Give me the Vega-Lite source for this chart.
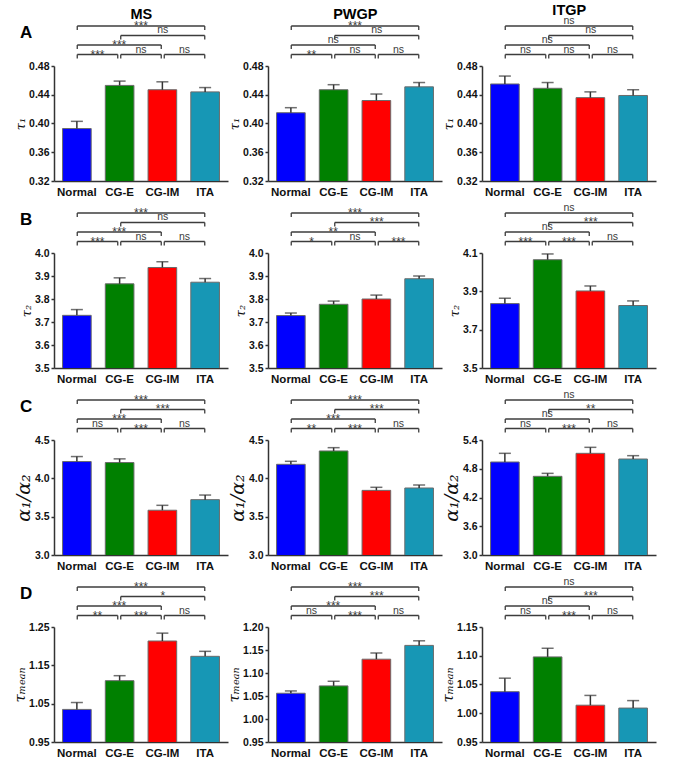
{
"$schema":"https://vega.github.io/schema/vega-lite/v6.json",
"padding":{"left":12,"top":3,"right":2,"bottom":2},
"datasets":{
"bars":[
{"p":"A-MS","g":"Normal","mean":0.393,"hi":0.403},{"p":"A-MS","g":"CG-E","mean":0.453,"hi":0.459},{"p":"A-MS","g":"CG-IM","mean":0.447,"hi":0.458},{"p":"A-MS","g":"ITA","mean":0.444,"hi":0.450},
{"p":"A-PWGP","g":"Normal","mean":0.415,"hi":0.422},{"p":"A-PWGP","g":"CG-E","mean":0.447,"hi":0.454},{"p":"A-PWGP","g":"CG-IM","mean":0.432,"hi":0.441},{"p":"A-PWGP","g":"ITA","mean":0.451,"hi":0.457},
{"p":"A-ITGP","g":"Normal","mean":0.455,"hi":0.466},{"p":"A-ITGP","g":"CG-E","mean":0.449,"hi":0.457},{"p":"A-ITGP","g":"CG-IM","mean":0.436,"hi":0.444},{"p":"A-ITGP","g":"ITA","mean":0.439,"hi":0.447},
{"p":"B-MS","g":"Normal","mean":3.729,"hi":3.754},{"p":"B-MS","g":"CG-E","mean":3.866,"hi":3.892},{"p":"B-MS","g":"CG-IM","mean":3.937,"hi":3.962},{"p":"B-MS","g":"ITA","mean":3.873,"hi":3.889},
{"p":"B-PWGP","g":"Normal","mean":3.728,"hi":3.739},{"p":"B-PWGP","g":"CG-E","mean":3.777,"hi":3.791},{"p":"B-PWGP","g":"CG-IM","mean":3.800,"hi":3.817},{"p":"B-PWGP","g":"ITA","mean":3.888,"hi":3.900},
{"p":"B-ITGP","g":"Normal","mean":3.836,"hi":3.864},{"p":"B-ITGP","g":"CG-E","mean":4.065,"hi":4.095},{"p":"B-ITGP","g":"CG-IM","mean":3.902,"hi":3.928},{"p":"B-ITGP","g":"ITA","mean":3.826,"hi":3.850},
{"p":"C-MS","g":"Normal","mean":4.219,"hi":4.284},{"p":"C-MS","g":"CG-E","mean":4.206,"hi":4.254},{"p":"C-MS","g":"CG-IM","mean":3.584,"hi":3.648},{"p":"C-MS","g":"ITA","mean":3.722,"hi":3.782},
{"p":"C-PWGP","g":"Normal","mean":4.183,"hi":4.222},{"p":"C-PWGP","g":"CG-E","mean":4.357,"hi":4.400},{"p":"C-PWGP","g":"CG-IM","mean":3.843,"hi":3.883},{"p":"C-PWGP","g":"ITA","mean":3.874,"hi":3.913},
{"p":"C-ITGP","g":"Normal","mean":4.941,"hi":5.122},{"p":"C-ITGP","g":"CG-E","mean":4.642,"hi":4.704},{"p":"C-ITGP","g":"CG-IM","mean":5.122,"hi":5.247},{"p":"C-ITGP","g":"ITA","mean":5.003,"hi":5.073},
{"p":"D-MS","g":"Normal","mean":1.035,"hi":1.053},{"p":"D-MS","g":"CG-E","mean":1.110,"hi":1.123},{"p":"D-MS","g":"CG-IM","mean":1.2135,"hi":1.234},{"p":"D-MS","g":"ITA","mean":1.1735,"hi":1.1865},
{"p":"D-PWGP","g":"Normal","mean":1.056,"hi":1.061},{"p":"D-PWGP","g":"CG-E","mean":1.072,"hi":1.082},{"p":"D-PWGP","g":"CG-IM","mean":1.130,"hi":1.1435},{"p":"D-PWGP","g":"ITA","mean":1.160,"hi":1.170},
{"p":"D-ITGP","g":"Normal","mean":1.0375,"hi":1.061},{"p":"D-ITGP","g":"CG-E","mean":1.098,"hi":1.113},{"p":"D-ITGP","g":"CG-IM","mean":1.014,"hi":1.031},{"p":"D-ITGP","g":"ITA","mean":1.009,"hi":1.022}
],
"pairs":[
{"k":"NE","f":"Normal","t":"CG-E","m":"Normal|CG-E","lv":1},
{"k":"EM","f":"CG-E","t":"CG-IM","m":"CG-E|CG-IM","lv":1},
{"k":"MI","f":"CG-IM","t":"ITA","m":"CG-IM|ITA","lv":1},
{"k":"NM","f":"Normal","t":"CG-IM","m":"CG-E","lv":2},
{"k":"EI","f":"CG-E","t":"ITA","m":"CG-IM","lv":3},
{"k":"NI","f":"Normal","t":"ITA","m":"CG-E|CG-IM","lv":4}
],
"sig":[
{"p":"A-MS","k":"NE","s":"***"},{"p":"A-MS","k":"EM","s":"ns"},{"p":"A-MS","k":"MI","s":"ns"},{"p":"A-MS","k":"NM","s":"***"},{"p":"A-MS","k":"EI","s":"ns"},{"p":"A-MS","k":"NI","s":"***"},
{"p":"A-PWGP","k":"NE","s":"**"},{"p":"A-PWGP","k":"EM","s":"ns"},{"p":"A-PWGP","k":"MI","s":"ns"},{"p":"A-PWGP","k":"NM","s":"ns"},{"p":"A-PWGP","k":"EI","s":"ns"},{"p":"A-PWGP","k":"NI","s":"***"},
{"p":"A-ITGP","k":"NE","s":"ns"},{"p":"A-ITGP","k":"EM","s":"ns"},{"p":"A-ITGP","k":"MI","s":"ns"},{"p":"A-ITGP","k":"NM","s":"ns"},{"p":"A-ITGP","k":"EI","s":"ns"},{"p":"A-ITGP","k":"NI","s":"ns"},
{"p":"B-MS","k":"NE","s":"***"},{"p":"B-MS","k":"EM","s":"ns"},{"p":"B-MS","k":"MI","s":"ns"},{"p":"B-MS","k":"NM","s":"***"},{"p":"B-MS","k":"EI","s":"ns"},{"p":"B-MS","k":"NI","s":"***"},
{"p":"B-PWGP","k":"NE","s":"*"},{"p":"B-PWGP","k":"EM","s":"ns"},{"p":"B-PWGP","k":"MI","s":"***"},{"p":"B-PWGP","k":"NM","s":"**"},{"p":"B-PWGP","k":"EI","s":"***"},{"p":"B-PWGP","k":"NI","s":"***"},
{"p":"B-ITGP","k":"NE","s":"***"},{"p":"B-ITGP","k":"EM","s":"***"},{"p":"B-ITGP","k":"MI","s":"ns"},{"p":"B-ITGP","k":"NM","s":"ns"},{"p":"B-ITGP","k":"EI","s":"***"},{"p":"B-ITGP","k":"NI","s":"ns"},
{"p":"C-MS","k":"NE","s":"ns"},{"p":"C-MS","k":"EM","s":"***"},{"p":"C-MS","k":"MI","s":"ns"},{"p":"C-MS","k":"NM","s":"***"},{"p":"C-MS","k":"EI","s":"***"},{"p":"C-MS","k":"NI","s":"***"},
{"p":"C-PWGP","k":"NE","s":"**"},{"p":"C-PWGP","k":"EM","s":"***"},{"p":"C-PWGP","k":"MI","s":"ns"},{"p":"C-PWGP","k":"NM","s":"***"},{"p":"C-PWGP","k":"EI","s":"***"},{"p":"C-PWGP","k":"NI","s":"***"},
{"p":"C-ITGP","k":"NE","s":"ns"},{"p":"C-ITGP","k":"EM","s":"***"},{"p":"C-ITGP","k":"MI","s":"ns"},{"p":"C-ITGP","k":"NM","s":"ns"},{"p":"C-ITGP","k":"EI","s":"**"},{"p":"C-ITGP","k":"NI","s":"ns"},
{"p":"D-MS","k":"NE","s":"**"},{"p":"D-MS","k":"EM","s":"***"},{"p":"D-MS","k":"MI","s":"ns"},{"p":"D-MS","k":"NM","s":"***"},{"p":"D-MS","k":"EI","s":"*"},{"p":"D-MS","k":"NI","s":"***"},
{"p":"D-PWGP","k":"NE","s":"ns"},{"p":"D-PWGP","k":"EM","s":"***"},{"p":"D-PWGP","k":"MI","s":"ns"},{"p":"D-PWGP","k":"NM","s":"***"},{"p":"D-PWGP","k":"EI","s":"***"},{"p":"D-PWGP","k":"NI","s":"***"},
{"p":"D-ITGP","k":"NE","s":"ns"},{"p":"D-ITGP","k":"EM","s":"***"},{"p":"D-ITGP","k":"MI","s":"ns"},{"p":"D-ITGP","k":"NM","s":"ns"},{"p":"D-ITGP","k":"EI","s":"***"},{"p":"D-ITGP","k":"NI","s":"ns"}
]
},
"columns":3,
"spacing":{"row":4,"column":-2},
"concat":[
{"title":{"text":"MS","dx":20},"spacing":0,"vconcat":[
 {"width":174,"height":40,"title":{"text":"A","anchor":"start","frame":"group","dx":-34,"offset":-22,"fontSize":17},
  "data":{"name":"sig"},"transform":[{"filter":"datum.p=='A-MS'"},{"lookup":"k","from":{"data":{"name":"pairs"},"key":"k","fields":["f","t","m","lv"]}}],
  "encoding":{"y":{"field":"lv","type":"quantitative","scale":{"domain":[0.316,4.526],"nice":false,"zero":false},"axis":null}},
  "layer":[
   {"mark":{"type":"rule","color":"#3c3c3c","strokeWidth":1.3,"xOffset":1.5,"x2Offset":-1.5},"encoding":{"x":{"field":"f","type":"ordinal","scale":{"type":"point","domain":["Normal","Normal|CG-E","CG-E","CG-E|CG-IM","CG-IM","CG-IM|ITA","ITA"],"padding":1.07},"axis":null},"x2":{"field":"t"}}},
   {"mark":{"type":"rule","color":"#3c3c3c","strokeWidth":1.3,"xOffset":1.5,"y2Offset":4},"encoding":{"x":{"field":"f","type":"ordinal","scale":{"type":"point","domain":["Normal","Normal|CG-E","CG-E","CG-E|CG-IM","CG-IM","CG-IM|ITA","ITA"],"padding":1.07},"axis":null},"y2":{"field":"lv"}}},
   {"mark":{"type":"rule","color":"#3c3c3c","strokeWidth":1.3,"xOffset":-1.5,"y2Offset":4},"encoding":{"x":{"field":"t","type":"ordinal","scale":{"type":"point","domain":["Normal","Normal|CG-E","CG-E","CG-E|CG-IM","CG-IM","CG-IM|ITA","ITA"],"padding":1.07},"axis":null},"y2":{"field":"lv"}}},
   {"transform":[{"filter":"datum.s=='ns'"}],"mark":{"type":"text","fontSize":10.5,"color":"#3c3c3c","baseline":"alphabetic","dy":-2},"encoding":{"x":{"field":"m","type":"ordinal","scale":{"type":"point","domain":["Normal","Normal|CG-E","CG-E","CG-E|CG-IM","CG-IM","CG-IM|ITA","ITA"],"padding":1.07},"axis":null},"text":{"field":"s"}}},
   {"transform":[{"filter":"datum.s!='ns'"}],"mark":{"type":"text","fontSize":12,"color":"#3c3c3c","baseline":"alphabetic","dy":4},"encoding":{"x":{"field":"m","type":"ordinal","scale":{"type":"point","domain":["Normal","Normal|CG-E","CG-E","CG-E|CG-IM","CG-IM","CG-IM|ITA","ITA"],"padding":1.07},"axis":null},"text":{"field":"s"}}}
  ]},
 {"width":174,"height":115,"data":{"name":"bars"},"transform":[{"filter":"datum.p=='A-MS'"}],
  "encoding":{"x":{"field":"g","type":"nominal","sort":["Normal","CG-E","CG-IM","ITA"],"scale":{"paddingInner":0.33,"paddingOuter":0.2},"axis":{"title":null}},
   "y":{"field":"mean","type":"quantitative","title":"τ₁","scale":{"domain":[0.32,0.48],"zero":false,"nice":false},"axis":{"values":[0.32,0.36,0.40,0.44,0.48],"format":".2f","titleFontSize":13}}},
  "layer":[
   {"mark":{"type":"bar","clip":true,"stroke":"#6b6b6b","strokeWidth":1},"encoding":{"color":{"field":"g","type":"nominal","scale":{"domain":["Normal","CG-E","CG-IM","ITA"],"range":["#0000ff","#008000","#ff0000","#1797b5"]},"legend":null}}},
   {"mark":{"type":"rule","color":"#333","strokeWidth":1.5},"encoding":{"y2":{"field":"hi"}}},
   {"mark":{"type":"tick","color":"#333","size":12,"thickness":1.5},"encoding":{"y":{"field":"hi","type":"quantitative","title":"τ₁"}}}
  ]}
]},
{"title":{"text":"PWGP","dx":20},"spacing":0,"vconcat":[
 {"width":174,"height":40,
  "data":{"name":"sig"},"transform":[{"filter":"datum.p=='A-PWGP'"},{"lookup":"k","from":{"data":{"name":"pairs"},"key":"k","fields":["f","t","m","lv"]}}],
  "encoding":{"y":{"field":"lv","type":"quantitative","scale":{"domain":[0.316,4.526],"nice":false,"zero":false},"axis":null}},
  "layer":[
   {"mark":{"type":"rule","color":"#3c3c3c","strokeWidth":1.3,"xOffset":1.5,"x2Offset":-1.5},"encoding":{"x":{"field":"f","type":"ordinal","scale":{"type":"point","domain":["Normal","Normal|CG-E","CG-E","CG-E|CG-IM","CG-IM","CG-IM|ITA","ITA"],"padding":1.07},"axis":null},"x2":{"field":"t"}}},
   {"mark":{"type":"rule","color":"#3c3c3c","strokeWidth":1.3,"xOffset":1.5,"y2Offset":4},"encoding":{"x":{"field":"f","type":"ordinal","scale":{"type":"point","domain":["Normal","Normal|CG-E","CG-E","CG-E|CG-IM","CG-IM","CG-IM|ITA","ITA"],"padding":1.07},"axis":null},"y2":{"field":"lv"}}},
   {"mark":{"type":"rule","color":"#3c3c3c","strokeWidth":1.3,"xOffset":-1.5,"y2Offset":4},"encoding":{"x":{"field":"t","type":"ordinal","scale":{"type":"point","domain":["Normal","Normal|CG-E","CG-E","CG-E|CG-IM","CG-IM","CG-IM|ITA","ITA"],"padding":1.07},"axis":null},"y2":{"field":"lv"}}},
   {"transform":[{"filter":"datum.s=='ns'"}],"mark":{"type":"text","fontSize":10.5,"color":"#3c3c3c","baseline":"alphabetic","dy":-2},"encoding":{"x":{"field":"m","type":"ordinal","scale":{"type":"point","domain":["Normal","Normal|CG-E","CG-E","CG-E|CG-IM","CG-IM","CG-IM|ITA","ITA"],"padding":1.07},"axis":null},"text":{"field":"s"}}},
   {"transform":[{"filter":"datum.s!='ns'"}],"mark":{"type":"text","fontSize":12,"color":"#3c3c3c","baseline":"alphabetic","dy":4},"encoding":{"x":{"field":"m","type":"ordinal","scale":{"type":"point","domain":["Normal","Normal|CG-E","CG-E","CG-E|CG-IM","CG-IM","CG-IM|ITA","ITA"],"padding":1.07},"axis":null},"text":{"field":"s"}}}
  ]},
 {"width":174,"height":115,"data":{"name":"bars"},"transform":[{"filter":"datum.p=='A-PWGP'"}],
  "encoding":{"x":{"field":"g","type":"nominal","sort":["Normal","CG-E","CG-IM","ITA"],"scale":{"paddingInner":0.33,"paddingOuter":0.2},"axis":{"title":null}},
   "y":{"field":"mean","type":"quantitative","title":"τ₁","scale":{"domain":[0.32,0.48],"zero":false,"nice":false},"axis":{"values":[0.32,0.36,0.40,0.44,0.48],"format":".2f","titleFontSize":13}}},
  "layer":[
   {"mark":{"type":"bar","clip":true,"stroke":"#6b6b6b","strokeWidth":1},"encoding":{"color":{"field":"g","type":"nominal","scale":{"domain":["Normal","CG-E","CG-IM","ITA"],"range":["#0000ff","#008000","#ff0000","#1797b5"]},"legend":null}}},
   {"mark":{"type":"rule","color":"#333","strokeWidth":1.5},"encoding":{"y2":{"field":"hi"}}},
   {"mark":{"type":"tick","color":"#333","size":12,"thickness":1.5},"encoding":{"y":{"field":"hi","type":"quantitative","title":"τ₁"}}}
  ]}
]},
{"title":{"text":"ITGP","dx":20},"spacing":0,"vconcat":[
 {"width":174,"height":40,
  "data":{"name":"sig"},"transform":[{"filter":"datum.p=='A-ITGP'"},{"lookup":"k","from":{"data":{"name":"pairs"},"key":"k","fields":["f","t","m","lv"]}}],
  "encoding":{"y":{"field":"lv","type":"quantitative","scale":{"domain":[0.316,4.526],"nice":false,"zero":false},"axis":null}},
  "layer":[
   {"mark":{"type":"rule","color":"#3c3c3c","strokeWidth":1.3,"xOffset":1.5,"x2Offset":-1.5},"encoding":{"x":{"field":"f","type":"ordinal","scale":{"type":"point","domain":["Normal","Normal|CG-E","CG-E","CG-E|CG-IM","CG-IM","CG-IM|ITA","ITA"],"padding":1.07},"axis":null},"x2":{"field":"t"}}},
   {"mark":{"type":"rule","color":"#3c3c3c","strokeWidth":1.3,"xOffset":1.5,"y2Offset":4},"encoding":{"x":{"field":"f","type":"ordinal","scale":{"type":"point","domain":["Normal","Normal|CG-E","CG-E","CG-E|CG-IM","CG-IM","CG-IM|ITA","ITA"],"padding":1.07},"axis":null},"y2":{"field":"lv"}}},
   {"mark":{"type":"rule","color":"#3c3c3c","strokeWidth":1.3,"xOffset":-1.5,"y2Offset":4},"encoding":{"x":{"field":"t","type":"ordinal","scale":{"type":"point","domain":["Normal","Normal|CG-E","CG-E","CG-E|CG-IM","CG-IM","CG-IM|ITA","ITA"],"padding":1.07},"axis":null},"y2":{"field":"lv"}}},
   {"transform":[{"filter":"datum.s=='ns'"}],"mark":{"type":"text","fontSize":10.5,"color":"#3c3c3c","baseline":"alphabetic","dy":-2},"encoding":{"x":{"field":"m","type":"ordinal","scale":{"type":"point","domain":["Normal","Normal|CG-E","CG-E","CG-E|CG-IM","CG-IM","CG-IM|ITA","ITA"],"padding":1.07},"axis":null},"text":{"field":"s"}}},
   {"transform":[{"filter":"datum.s!='ns'"}],"mark":{"type":"text","fontSize":12,"color":"#3c3c3c","baseline":"alphabetic","dy":4},"encoding":{"x":{"field":"m","type":"ordinal","scale":{"type":"point","domain":["Normal","Normal|CG-E","CG-E","CG-E|CG-IM","CG-IM","CG-IM|ITA","ITA"],"padding":1.07},"axis":null},"text":{"field":"s"}}}
  ]},
 {"width":174,"height":115,"data":{"name":"bars"},"transform":[{"filter":"datum.p=='A-ITGP'"}],
  "encoding":{"x":{"field":"g","type":"nominal","sort":["Normal","CG-E","CG-IM","ITA"],"scale":{"paddingInner":0.33,"paddingOuter":0.2},"axis":{"title":null}},
   "y":{"field":"mean","type":"quantitative","title":"τ₁","scale":{"domain":[0.32,0.48],"zero":false,"nice":false},"axis":{"values":[0.32,0.36,0.40,0.44,0.48],"format":".2f","titleFontSize":13}}},
  "layer":[
   {"mark":{"type":"bar","clip":true,"stroke":"#6b6b6b","strokeWidth":1},"encoding":{"color":{"field":"g","type":"nominal","scale":{"domain":["Normal","CG-E","CG-IM","ITA"],"range":["#0000ff","#008000","#ff0000","#1797b5"]},"legend":null}}},
   {"mark":{"type":"rule","color":"#333","strokeWidth":1.5},"encoding":{"y2":{"field":"hi"}}},
   {"mark":{"type":"tick","color":"#333","size":12,"thickness":1.5},"encoding":{"y":{"field":"hi","type":"quantitative","title":"τ₁"}}}
  ]}
]},
{"spacing":0,"vconcat":[
 {"width":174,"height":40,"title":{"text":"B","anchor":"start","frame":"group","dx":-34,"offset":-22,"fontSize":17},
  "data":{"name":"sig"},"transform":[{"filter":"datum.p=='B-MS'"},{"lookup":"k","from":{"data":{"name":"pairs"},"key":"k","fields":["f","t","m","lv"]}}],
  "encoding":{"y":{"field":"lv","type":"quantitative","scale":{"domain":[0.316,4.526],"nice":false,"zero":false},"axis":null}},
  "layer":[
   {"mark":{"type":"rule","color":"#3c3c3c","strokeWidth":1.3,"xOffset":1.5,"x2Offset":-1.5},"encoding":{"x":{"field":"f","type":"ordinal","scale":{"type":"point","domain":["Normal","Normal|CG-E","CG-E","CG-E|CG-IM","CG-IM","CG-IM|ITA","ITA"],"padding":1.07},"axis":null},"x2":{"field":"t"}}},
   {"mark":{"type":"rule","color":"#3c3c3c","strokeWidth":1.3,"xOffset":1.5,"y2Offset":4},"encoding":{"x":{"field":"f","type":"ordinal","scale":{"type":"point","domain":["Normal","Normal|CG-E","CG-E","CG-E|CG-IM","CG-IM","CG-IM|ITA","ITA"],"padding":1.07},"axis":null},"y2":{"field":"lv"}}},
   {"mark":{"type":"rule","color":"#3c3c3c","strokeWidth":1.3,"xOffset":-1.5,"y2Offset":4},"encoding":{"x":{"field":"t","type":"ordinal","scale":{"type":"point","domain":["Normal","Normal|CG-E","CG-E","CG-E|CG-IM","CG-IM","CG-IM|ITA","ITA"],"padding":1.07},"axis":null},"y2":{"field":"lv"}}},
   {"transform":[{"filter":"datum.s=='ns'"}],"mark":{"type":"text","fontSize":10.5,"color":"#3c3c3c","baseline":"alphabetic","dy":-2},"encoding":{"x":{"field":"m","type":"ordinal","scale":{"type":"point","domain":["Normal","Normal|CG-E","CG-E","CG-E|CG-IM","CG-IM","CG-IM|ITA","ITA"],"padding":1.07},"axis":null},"text":{"field":"s"}}},
   {"transform":[{"filter":"datum.s!='ns'"}],"mark":{"type":"text","fontSize":12,"color":"#3c3c3c","baseline":"alphabetic","dy":4},"encoding":{"x":{"field":"m","type":"ordinal","scale":{"type":"point","domain":["Normal","Normal|CG-E","CG-E","CG-E|CG-IM","CG-IM","CG-IM|ITA","ITA"],"padding":1.07},"axis":null},"text":{"field":"s"}}}
  ]},
 {"width":174,"height":115,"data":{"name":"bars"},"transform":[{"filter":"datum.p=='B-MS'"}],
  "encoding":{"x":{"field":"g","type":"nominal","sort":["Normal","CG-E","CG-IM","ITA"],"scale":{"paddingInner":0.33,"paddingOuter":0.2},"axis":{"title":null}},
   "y":{"field":"mean","type":"quantitative","title":"τ₂","scale":{"domain":[3.5,4.0],"zero":false,"nice":false},"axis":{"values":[3.5,3.6,3.7,3.8,3.9,4.0],"format":".1f","titleFontSize":13}}},
  "layer":[
   {"mark":{"type":"bar","clip":true,"stroke":"#6b6b6b","strokeWidth":1},"encoding":{"color":{"field":"g","type":"nominal","scale":{"domain":["Normal","CG-E","CG-IM","ITA"],"range":["#0000ff","#008000","#ff0000","#1797b5"]},"legend":null}}},
   {"mark":{"type":"rule","color":"#333","strokeWidth":1.5},"encoding":{"y2":{"field":"hi"}}},
   {"mark":{"type":"tick","color":"#333","size":12,"thickness":1.5},"encoding":{"y":{"field":"hi","type":"quantitative","title":"τ₂"}}}
  ]}
]},
{"spacing":0,"vconcat":[
 {"width":174,"height":40,
  "data":{"name":"sig"},"transform":[{"filter":"datum.p=='B-PWGP'"},{"lookup":"k","from":{"data":{"name":"pairs"},"key":"k","fields":["f","t","m","lv"]}}],
  "encoding":{"y":{"field":"lv","type":"quantitative","scale":{"domain":[0.316,4.526],"nice":false,"zero":false},"axis":null}},
  "layer":[
   {"mark":{"type":"rule","color":"#3c3c3c","strokeWidth":1.3,"xOffset":1.5,"x2Offset":-1.5},"encoding":{"x":{"field":"f","type":"ordinal","scale":{"type":"point","domain":["Normal","Normal|CG-E","CG-E","CG-E|CG-IM","CG-IM","CG-IM|ITA","ITA"],"padding":1.07},"axis":null},"x2":{"field":"t"}}},
   {"mark":{"type":"rule","color":"#3c3c3c","strokeWidth":1.3,"xOffset":1.5,"y2Offset":4},"encoding":{"x":{"field":"f","type":"ordinal","scale":{"type":"point","domain":["Normal","Normal|CG-E","CG-E","CG-E|CG-IM","CG-IM","CG-IM|ITA","ITA"],"padding":1.07},"axis":null},"y2":{"field":"lv"}}},
   {"mark":{"type":"rule","color":"#3c3c3c","strokeWidth":1.3,"xOffset":-1.5,"y2Offset":4},"encoding":{"x":{"field":"t","type":"ordinal","scale":{"type":"point","domain":["Normal","Normal|CG-E","CG-E","CG-E|CG-IM","CG-IM","CG-IM|ITA","ITA"],"padding":1.07},"axis":null},"y2":{"field":"lv"}}},
   {"transform":[{"filter":"datum.s=='ns'"}],"mark":{"type":"text","fontSize":10.5,"color":"#3c3c3c","baseline":"alphabetic","dy":-2},"encoding":{"x":{"field":"m","type":"ordinal","scale":{"type":"point","domain":["Normal","Normal|CG-E","CG-E","CG-E|CG-IM","CG-IM","CG-IM|ITA","ITA"],"padding":1.07},"axis":null},"text":{"field":"s"}}},
   {"transform":[{"filter":"datum.s!='ns'"}],"mark":{"type":"text","fontSize":12,"color":"#3c3c3c","baseline":"alphabetic","dy":4},"encoding":{"x":{"field":"m","type":"ordinal","scale":{"type":"point","domain":["Normal","Normal|CG-E","CG-E","CG-E|CG-IM","CG-IM","CG-IM|ITA","ITA"],"padding":1.07},"axis":null},"text":{"field":"s"}}}
  ]},
 {"width":174,"height":115,"data":{"name":"bars"},"transform":[{"filter":"datum.p=='B-PWGP'"}],
  "encoding":{"x":{"field":"g","type":"nominal","sort":["Normal","CG-E","CG-IM","ITA"],"scale":{"paddingInner":0.33,"paddingOuter":0.2},"axis":{"title":null}},
   "y":{"field":"mean","type":"quantitative","title":"τ₂","scale":{"domain":[3.5,4.0],"zero":false,"nice":false},"axis":{"values":[3.5,3.6,3.7,3.8,3.9,4.0],"format":".1f","titleFontSize":13}}},
  "layer":[
   {"mark":{"type":"bar","clip":true,"stroke":"#6b6b6b","strokeWidth":1},"encoding":{"color":{"field":"g","type":"nominal","scale":{"domain":["Normal","CG-E","CG-IM","ITA"],"range":["#0000ff","#008000","#ff0000","#1797b5"]},"legend":null}}},
   {"mark":{"type":"rule","color":"#333","strokeWidth":1.5},"encoding":{"y2":{"field":"hi"}}},
   {"mark":{"type":"tick","color":"#333","size":12,"thickness":1.5},"encoding":{"y":{"field":"hi","type":"quantitative","title":"τ₂"}}}
  ]}
]},
{"spacing":0,"vconcat":[
 {"width":174,"height":40,
  "data":{"name":"sig"},"transform":[{"filter":"datum.p=='B-ITGP'"},{"lookup":"k","from":{"data":{"name":"pairs"},"key":"k","fields":["f","t","m","lv"]}}],
  "encoding":{"y":{"field":"lv","type":"quantitative","scale":{"domain":[0.316,4.526],"nice":false,"zero":false},"axis":null}},
  "layer":[
   {"mark":{"type":"rule","color":"#3c3c3c","strokeWidth":1.3,"xOffset":1.5,"x2Offset":-1.5},"encoding":{"x":{"field":"f","type":"ordinal","scale":{"type":"point","domain":["Normal","Normal|CG-E","CG-E","CG-E|CG-IM","CG-IM","CG-IM|ITA","ITA"],"padding":1.07},"axis":null},"x2":{"field":"t"}}},
   {"mark":{"type":"rule","color":"#3c3c3c","strokeWidth":1.3,"xOffset":1.5,"y2Offset":4},"encoding":{"x":{"field":"f","type":"ordinal","scale":{"type":"point","domain":["Normal","Normal|CG-E","CG-E","CG-E|CG-IM","CG-IM","CG-IM|ITA","ITA"],"padding":1.07},"axis":null},"y2":{"field":"lv"}}},
   {"mark":{"type":"rule","color":"#3c3c3c","strokeWidth":1.3,"xOffset":-1.5,"y2Offset":4},"encoding":{"x":{"field":"t","type":"ordinal","scale":{"type":"point","domain":["Normal","Normal|CG-E","CG-E","CG-E|CG-IM","CG-IM","CG-IM|ITA","ITA"],"padding":1.07},"axis":null},"y2":{"field":"lv"}}},
   {"transform":[{"filter":"datum.s=='ns'"}],"mark":{"type":"text","fontSize":10.5,"color":"#3c3c3c","baseline":"alphabetic","dy":-2},"encoding":{"x":{"field":"m","type":"ordinal","scale":{"type":"point","domain":["Normal","Normal|CG-E","CG-E","CG-E|CG-IM","CG-IM","CG-IM|ITA","ITA"],"padding":1.07},"axis":null},"text":{"field":"s"}}},
   {"transform":[{"filter":"datum.s!='ns'"}],"mark":{"type":"text","fontSize":12,"color":"#3c3c3c","baseline":"alphabetic","dy":4},"encoding":{"x":{"field":"m","type":"ordinal","scale":{"type":"point","domain":["Normal","Normal|CG-E","CG-E","CG-E|CG-IM","CG-IM","CG-IM|ITA","ITA"],"padding":1.07},"axis":null},"text":{"field":"s"}}}
  ]},
 {"width":174,"height":115,"data":{"name":"bars"},"transform":[{"filter":"datum.p=='B-ITGP'"}],
  "encoding":{"x":{"field":"g","type":"nominal","sort":["Normal","CG-E","CG-IM","ITA"],"scale":{"paddingInner":0.33,"paddingOuter":0.2},"axis":{"title":null}},
   "y":{"field":"mean","type":"quantitative","title":"τ₂","scale":{"domain":[3.5,4.1],"zero":false,"nice":false},"axis":{"values":[3.5,3.7,3.9,4.1],"format":".1f","titleFontSize":13}}},
  "layer":[
   {"mark":{"type":"bar","clip":true,"stroke":"#6b6b6b","strokeWidth":1},"encoding":{"color":{"field":"g","type":"nominal","scale":{"domain":["Normal","CG-E","CG-IM","ITA"],"range":["#0000ff","#008000","#ff0000","#1797b5"]},"legend":null}}},
   {"mark":{"type":"rule","color":"#333","strokeWidth":1.5},"encoding":{"y2":{"field":"hi"}}},
   {"mark":{"type":"tick","color":"#333","size":12,"thickness":1.5},"encoding":{"y":{"field":"hi","type":"quantitative","title":"τ₂"}}}
  ]}
]},
{"spacing":0,"vconcat":[
 {"width":174,"height":40,"title":{"text":"C","anchor":"start","frame":"group","dx":-34,"offset":-22,"fontSize":17},
  "data":{"name":"sig"},"transform":[{"filter":"datum.p=='C-MS'"},{"lookup":"k","from":{"data":{"name":"pairs"},"key":"k","fields":["f","t","m","lv"]}}],
  "encoding":{"y":{"field":"lv","type":"quantitative","scale":{"domain":[0.316,4.526],"nice":false,"zero":false},"axis":null}},
  "layer":[
   {"mark":{"type":"rule","color":"#3c3c3c","strokeWidth":1.3,"xOffset":1.5,"x2Offset":-1.5},"encoding":{"x":{"field":"f","type":"ordinal","scale":{"type":"point","domain":["Normal","Normal|CG-E","CG-E","CG-E|CG-IM","CG-IM","CG-IM|ITA","ITA"],"padding":1.07},"axis":null},"x2":{"field":"t"}}},
   {"mark":{"type":"rule","color":"#3c3c3c","strokeWidth":1.3,"xOffset":1.5,"y2Offset":4},"encoding":{"x":{"field":"f","type":"ordinal","scale":{"type":"point","domain":["Normal","Normal|CG-E","CG-E","CG-E|CG-IM","CG-IM","CG-IM|ITA","ITA"],"padding":1.07},"axis":null},"y2":{"field":"lv"}}},
   {"mark":{"type":"rule","color":"#3c3c3c","strokeWidth":1.3,"xOffset":-1.5,"y2Offset":4},"encoding":{"x":{"field":"t","type":"ordinal","scale":{"type":"point","domain":["Normal","Normal|CG-E","CG-E","CG-E|CG-IM","CG-IM","CG-IM|ITA","ITA"],"padding":1.07},"axis":null},"y2":{"field":"lv"}}},
   {"transform":[{"filter":"datum.s=='ns'"}],"mark":{"type":"text","fontSize":10.5,"color":"#3c3c3c","baseline":"alphabetic","dy":-2},"encoding":{"x":{"field":"m","type":"ordinal","scale":{"type":"point","domain":["Normal","Normal|CG-E","CG-E","CG-E|CG-IM","CG-IM","CG-IM|ITA","ITA"],"padding":1.07},"axis":null},"text":{"field":"s"}}},
   {"transform":[{"filter":"datum.s!='ns'"}],"mark":{"type":"text","fontSize":12,"color":"#3c3c3c","baseline":"alphabetic","dy":4},"encoding":{"x":{"field":"m","type":"ordinal","scale":{"type":"point","domain":["Normal","Normal|CG-E","CG-E","CG-E|CG-IM","CG-IM","CG-IM|ITA","ITA"],"padding":1.07},"axis":null},"text":{"field":"s"}}}
  ]},
 {"width":174,"height":115,"data":{"name":"bars"},"transform":[{"filter":"datum.p=='C-MS'"}],
  "encoding":{"x":{"field":"g","type":"nominal","sort":["Normal","CG-E","CG-IM","ITA"],"scale":{"paddingInner":0.33,"paddingOuter":0.2},"axis":{"title":null}},
   "y":{"field":"mean","type":"quantitative","title":"α₁/α₂","scale":{"domain":[3.0,4.5],"zero":false,"nice":false},"axis":{"values":[3.0,3.5,4.0,4.5],"format":".1f","titleFontSize":19}}},
  "layer":[
   {"mark":{"type":"bar","clip":true,"stroke":"#6b6b6b","strokeWidth":1},"encoding":{"color":{"field":"g","type":"nominal","scale":{"domain":["Normal","CG-E","CG-IM","ITA"],"range":["#0000ff","#008000","#ff0000","#1797b5"]},"legend":null}}},
   {"mark":{"type":"rule","color":"#333","strokeWidth":1.5},"encoding":{"y2":{"field":"hi"}}},
   {"mark":{"type":"tick","color":"#333","size":12,"thickness":1.5},"encoding":{"y":{"field":"hi","type":"quantitative","title":"α₁/α₂"}}}
  ]}
]},
{"spacing":0,"vconcat":[
 {"width":174,"height":40,
  "data":{"name":"sig"},"transform":[{"filter":"datum.p=='C-PWGP'"},{"lookup":"k","from":{"data":{"name":"pairs"},"key":"k","fields":["f","t","m","lv"]}}],
  "encoding":{"y":{"field":"lv","type":"quantitative","scale":{"domain":[0.316,4.526],"nice":false,"zero":false},"axis":null}},
  "layer":[
   {"mark":{"type":"rule","color":"#3c3c3c","strokeWidth":1.3,"xOffset":1.5,"x2Offset":-1.5},"encoding":{"x":{"field":"f","type":"ordinal","scale":{"type":"point","domain":["Normal","Normal|CG-E","CG-E","CG-E|CG-IM","CG-IM","CG-IM|ITA","ITA"],"padding":1.07},"axis":null},"x2":{"field":"t"}}},
   {"mark":{"type":"rule","color":"#3c3c3c","strokeWidth":1.3,"xOffset":1.5,"y2Offset":4},"encoding":{"x":{"field":"f","type":"ordinal","scale":{"type":"point","domain":["Normal","Normal|CG-E","CG-E","CG-E|CG-IM","CG-IM","CG-IM|ITA","ITA"],"padding":1.07},"axis":null},"y2":{"field":"lv"}}},
   {"mark":{"type":"rule","color":"#3c3c3c","strokeWidth":1.3,"xOffset":-1.5,"y2Offset":4},"encoding":{"x":{"field":"t","type":"ordinal","scale":{"type":"point","domain":["Normal","Normal|CG-E","CG-E","CG-E|CG-IM","CG-IM","CG-IM|ITA","ITA"],"padding":1.07},"axis":null},"y2":{"field":"lv"}}},
   {"transform":[{"filter":"datum.s=='ns'"}],"mark":{"type":"text","fontSize":10.5,"color":"#3c3c3c","baseline":"alphabetic","dy":-2},"encoding":{"x":{"field":"m","type":"ordinal","scale":{"type":"point","domain":["Normal","Normal|CG-E","CG-E","CG-E|CG-IM","CG-IM","CG-IM|ITA","ITA"],"padding":1.07},"axis":null},"text":{"field":"s"}}},
   {"transform":[{"filter":"datum.s!='ns'"}],"mark":{"type":"text","fontSize":12,"color":"#3c3c3c","baseline":"alphabetic","dy":4},"encoding":{"x":{"field":"m","type":"ordinal","scale":{"type":"point","domain":["Normal","Normal|CG-E","CG-E","CG-E|CG-IM","CG-IM","CG-IM|ITA","ITA"],"padding":1.07},"axis":null},"text":{"field":"s"}}}
  ]},
 {"width":174,"height":115,"data":{"name":"bars"},"transform":[{"filter":"datum.p=='C-PWGP'"}],
  "encoding":{"x":{"field":"g","type":"nominal","sort":["Normal","CG-E","CG-IM","ITA"],"scale":{"paddingInner":0.33,"paddingOuter":0.2},"axis":{"title":null}},
   "y":{"field":"mean","type":"quantitative","title":"α₁/α₂","scale":{"domain":[3.0,4.5],"zero":false,"nice":false},"axis":{"values":[3.0,3.5,4.0,4.5],"format":".1f","titleFontSize":19}}},
  "layer":[
   {"mark":{"type":"bar","clip":true,"stroke":"#6b6b6b","strokeWidth":1},"encoding":{"color":{"field":"g","type":"nominal","scale":{"domain":["Normal","CG-E","CG-IM","ITA"],"range":["#0000ff","#008000","#ff0000","#1797b5"]},"legend":null}}},
   {"mark":{"type":"rule","color":"#333","strokeWidth":1.5},"encoding":{"y2":{"field":"hi"}}},
   {"mark":{"type":"tick","color":"#333","size":12,"thickness":1.5},"encoding":{"y":{"field":"hi","type":"quantitative","title":"α₁/α₂"}}}
  ]}
]},
{"spacing":0,"vconcat":[
 {"width":174,"height":40,
  "data":{"name":"sig"},"transform":[{"filter":"datum.p=='C-ITGP'"},{"lookup":"k","from":{"data":{"name":"pairs"},"key":"k","fields":["f","t","m","lv"]}}],
  "encoding":{"y":{"field":"lv","type":"quantitative","scale":{"domain":[0.316,4.526],"nice":false,"zero":false},"axis":null}},
  "layer":[
   {"mark":{"type":"rule","color":"#3c3c3c","strokeWidth":1.3,"xOffset":1.5,"x2Offset":-1.5},"encoding":{"x":{"field":"f","type":"ordinal","scale":{"type":"point","domain":["Normal","Normal|CG-E","CG-E","CG-E|CG-IM","CG-IM","CG-IM|ITA","ITA"],"padding":1.07},"axis":null},"x2":{"field":"t"}}},
   {"mark":{"type":"rule","color":"#3c3c3c","strokeWidth":1.3,"xOffset":1.5,"y2Offset":4},"encoding":{"x":{"field":"f","type":"ordinal","scale":{"type":"point","domain":["Normal","Normal|CG-E","CG-E","CG-E|CG-IM","CG-IM","CG-IM|ITA","ITA"],"padding":1.07},"axis":null},"y2":{"field":"lv"}}},
   {"mark":{"type":"rule","color":"#3c3c3c","strokeWidth":1.3,"xOffset":-1.5,"y2Offset":4},"encoding":{"x":{"field":"t","type":"ordinal","scale":{"type":"point","domain":["Normal","Normal|CG-E","CG-E","CG-E|CG-IM","CG-IM","CG-IM|ITA","ITA"],"padding":1.07},"axis":null},"y2":{"field":"lv"}}},
   {"transform":[{"filter":"datum.s=='ns'"}],"mark":{"type":"text","fontSize":10.5,"color":"#3c3c3c","baseline":"alphabetic","dy":-2},"encoding":{"x":{"field":"m","type":"ordinal","scale":{"type":"point","domain":["Normal","Normal|CG-E","CG-E","CG-E|CG-IM","CG-IM","CG-IM|ITA","ITA"],"padding":1.07},"axis":null},"text":{"field":"s"}}},
   {"transform":[{"filter":"datum.s!='ns'"}],"mark":{"type":"text","fontSize":12,"color":"#3c3c3c","baseline":"alphabetic","dy":4},"encoding":{"x":{"field":"m","type":"ordinal","scale":{"type":"point","domain":["Normal","Normal|CG-E","CG-E","CG-E|CG-IM","CG-IM","CG-IM|ITA","ITA"],"padding":1.07},"axis":null},"text":{"field":"s"}}}
  ]},
 {"width":174,"height":115,"data":{"name":"bars"},"transform":[{"filter":"datum.p=='C-ITGP'"}],
  "encoding":{"x":{"field":"g","type":"nominal","sort":["Normal","CG-E","CG-IM","ITA"],"scale":{"paddingInner":0.33,"paddingOuter":0.2},"axis":{"title":null}},
   "y":{"field":"mean","type":"quantitative","title":"α₁/α₂","scale":{"domain":[3.0,5.4],"zero":false,"nice":false},"axis":{"values":[3.0,3.6,4.2,4.8,5.4],"format":".1f","titleFontSize":19}}},
  "layer":[
   {"mark":{"type":"bar","clip":true,"stroke":"#6b6b6b","strokeWidth":1},"encoding":{"color":{"field":"g","type":"nominal","scale":{"domain":["Normal","CG-E","CG-IM","ITA"],"range":["#0000ff","#008000","#ff0000","#1797b5"]},"legend":null}}},
   {"mark":{"type":"rule","color":"#333","strokeWidth":1.5},"encoding":{"y2":{"field":"hi"}}},
   {"mark":{"type":"tick","color":"#333","size":12,"thickness":1.5},"encoding":{"y":{"field":"hi","type":"quantitative","title":"α₁/α₂"}}}
  ]}
]},
{"spacing":0,"vconcat":[
 {"width":174,"height":40,"title":{"text":"D","anchor":"start","frame":"group","dx":-34,"offset":-22,"fontSize":17},
  "data":{"name":"sig"},"transform":[{"filter":"datum.p=='D-MS'"},{"lookup":"k","from":{"data":{"name":"pairs"},"key":"k","fields":["f","t","m","lv"]}}],
  "encoding":{"y":{"field":"lv","type":"quantitative","scale":{"domain":[0.316,4.526],"nice":false,"zero":false},"axis":null}},
  "layer":[
   {"mark":{"type":"rule","color":"#3c3c3c","strokeWidth":1.3,"xOffset":1.5,"x2Offset":-1.5},"encoding":{"x":{"field":"f","type":"ordinal","scale":{"type":"point","domain":["Normal","Normal|CG-E","CG-E","CG-E|CG-IM","CG-IM","CG-IM|ITA","ITA"],"padding":1.07},"axis":null},"x2":{"field":"t"}}},
   {"mark":{"type":"rule","color":"#3c3c3c","strokeWidth":1.3,"xOffset":1.5,"y2Offset":4},"encoding":{"x":{"field":"f","type":"ordinal","scale":{"type":"point","domain":["Normal","Normal|CG-E","CG-E","CG-E|CG-IM","CG-IM","CG-IM|ITA","ITA"],"padding":1.07},"axis":null},"y2":{"field":"lv"}}},
   {"mark":{"type":"rule","color":"#3c3c3c","strokeWidth":1.3,"xOffset":-1.5,"y2Offset":4},"encoding":{"x":{"field":"t","type":"ordinal","scale":{"type":"point","domain":["Normal","Normal|CG-E","CG-E","CG-E|CG-IM","CG-IM","CG-IM|ITA","ITA"],"padding":1.07},"axis":null},"y2":{"field":"lv"}}},
   {"transform":[{"filter":"datum.s=='ns'"}],"mark":{"type":"text","fontSize":10.5,"color":"#3c3c3c","baseline":"alphabetic","dy":-2},"encoding":{"x":{"field":"m","type":"ordinal","scale":{"type":"point","domain":["Normal","Normal|CG-E","CG-E","CG-E|CG-IM","CG-IM","CG-IM|ITA","ITA"],"padding":1.07},"axis":null},"text":{"field":"s"}}},
   {"transform":[{"filter":"datum.s!='ns'"}],"mark":{"type":"text","fontSize":12,"color":"#3c3c3c","baseline":"alphabetic","dy":4},"encoding":{"x":{"field":"m","type":"ordinal","scale":{"type":"point","domain":["Normal","Normal|CG-E","CG-E","CG-E|CG-IM","CG-IM","CG-IM|ITA","ITA"],"padding":1.07},"axis":null},"text":{"field":"s"}}}
  ]},
 {"width":174,"height":115,"data":{"name":"bars"},"transform":[{"filter":"datum.p=='D-MS'"}],
  "encoding":{"x":{"field":"g","type":"nominal","sort":["Normal","CG-E","CG-IM","ITA"],"scale":{"paddingInner":0.33,"paddingOuter":0.2},"axis":{"title":null}},
   "y":{"field":"mean","type":"quantitative","title":"τₘₑₐₙ","scale":{"domain":[0.95,1.25],"zero":false,"nice":false},"axis":{"values":[0.95,1.05,1.15,1.25],"format":".2f","titleFontSize":15}}},
  "layer":[
   {"mark":{"type":"bar","clip":true,"stroke":"#6b6b6b","strokeWidth":1},"encoding":{"color":{"field":"g","type":"nominal","scale":{"domain":["Normal","CG-E","CG-IM","ITA"],"range":["#0000ff","#008000","#ff0000","#1797b5"]},"legend":null}}},
   {"mark":{"type":"rule","color":"#333","strokeWidth":1.5},"encoding":{"y2":{"field":"hi"}}},
   {"mark":{"type":"tick","color":"#333","size":12,"thickness":1.5},"encoding":{"y":{"field":"hi","type":"quantitative","title":"τₘₑₐₙ"}}}
  ]}
]},
{"spacing":0,"vconcat":[
 {"width":174,"height":40,
  "data":{"name":"sig"},"transform":[{"filter":"datum.p=='D-PWGP'"},{"lookup":"k","from":{"data":{"name":"pairs"},"key":"k","fields":["f","t","m","lv"]}}],
  "encoding":{"y":{"field":"lv","type":"quantitative","scale":{"domain":[0.316,4.526],"nice":false,"zero":false},"axis":null}},
  "layer":[
   {"mark":{"type":"rule","color":"#3c3c3c","strokeWidth":1.3,"xOffset":1.5,"x2Offset":-1.5},"encoding":{"x":{"field":"f","type":"ordinal","scale":{"type":"point","domain":["Normal","Normal|CG-E","CG-E","CG-E|CG-IM","CG-IM","CG-IM|ITA","ITA"],"padding":1.07},"axis":null},"x2":{"field":"t"}}},
   {"mark":{"type":"rule","color":"#3c3c3c","strokeWidth":1.3,"xOffset":1.5,"y2Offset":4},"encoding":{"x":{"field":"f","type":"ordinal","scale":{"type":"point","domain":["Normal","Normal|CG-E","CG-E","CG-E|CG-IM","CG-IM","CG-IM|ITA","ITA"],"padding":1.07},"axis":null},"y2":{"field":"lv"}}},
   {"mark":{"type":"rule","color":"#3c3c3c","strokeWidth":1.3,"xOffset":-1.5,"y2Offset":4},"encoding":{"x":{"field":"t","type":"ordinal","scale":{"type":"point","domain":["Normal","Normal|CG-E","CG-E","CG-E|CG-IM","CG-IM","CG-IM|ITA","ITA"],"padding":1.07},"axis":null},"y2":{"field":"lv"}}},
   {"transform":[{"filter":"datum.s=='ns'"}],"mark":{"type":"text","fontSize":10.5,"color":"#3c3c3c","baseline":"alphabetic","dy":-2},"encoding":{"x":{"field":"m","type":"ordinal","scale":{"type":"point","domain":["Normal","Normal|CG-E","CG-E","CG-E|CG-IM","CG-IM","CG-IM|ITA","ITA"],"padding":1.07},"axis":null},"text":{"field":"s"}}},
   {"transform":[{"filter":"datum.s!='ns'"}],"mark":{"type":"text","fontSize":12,"color":"#3c3c3c","baseline":"alphabetic","dy":4},"encoding":{"x":{"field":"m","type":"ordinal","scale":{"type":"point","domain":["Normal","Normal|CG-E","CG-E","CG-E|CG-IM","CG-IM","CG-IM|ITA","ITA"],"padding":1.07},"axis":null},"text":{"field":"s"}}}
  ]},
 {"width":174,"height":115,"data":{"name":"bars"},"transform":[{"filter":"datum.p=='D-PWGP'"}],
  "encoding":{"x":{"field":"g","type":"nominal","sort":["Normal","CG-E","CG-IM","ITA"],"scale":{"paddingInner":0.33,"paddingOuter":0.2},"axis":{"title":null}},
   "y":{"field":"mean","type":"quantitative","title":"τₘₑₐₙ","scale":{"domain":[0.95,1.20],"zero":false,"nice":false},"axis":{"values":[0.95,1.00,1.05,1.10,1.15,1.20],"format":".2f","titleFontSize":15}}},
  "layer":[
   {"mark":{"type":"bar","clip":true,"stroke":"#6b6b6b","strokeWidth":1},"encoding":{"color":{"field":"g","type":"nominal","scale":{"domain":["Normal","CG-E","CG-IM","ITA"],"range":["#0000ff","#008000","#ff0000","#1797b5"]},"legend":null}}},
   {"mark":{"type":"rule","color":"#333","strokeWidth":1.5},"encoding":{"y2":{"field":"hi"}}},
   {"mark":{"type":"tick","color":"#333","size":12,"thickness":1.5},"encoding":{"y":{"field":"hi","type":"quantitative","title":"τₘₑₐₙ"}}}
  ]}
]},
{"spacing":0,"vconcat":[
 {"width":174,"height":40,
  "data":{"name":"sig"},"transform":[{"filter":"datum.p=='D-ITGP'"},{"lookup":"k","from":{"data":{"name":"pairs"},"key":"k","fields":["f","t","m","lv"]}}],
  "encoding":{"y":{"field":"lv","type":"quantitative","scale":{"domain":[0.316,4.526],"nice":false,"zero":false},"axis":null}},
  "layer":[
   {"mark":{"type":"rule","color":"#3c3c3c","strokeWidth":1.3,"xOffset":1.5,"x2Offset":-1.5},"encoding":{"x":{"field":"f","type":"ordinal","scale":{"type":"point","domain":["Normal","Normal|CG-E","CG-E","CG-E|CG-IM","CG-IM","CG-IM|ITA","ITA"],"padding":1.07},"axis":null},"x2":{"field":"t"}}},
   {"mark":{"type":"rule","color":"#3c3c3c","strokeWidth":1.3,"xOffset":1.5,"y2Offset":4},"encoding":{"x":{"field":"f","type":"ordinal","scale":{"type":"point","domain":["Normal","Normal|CG-E","CG-E","CG-E|CG-IM","CG-IM","CG-IM|ITA","ITA"],"padding":1.07},"axis":null},"y2":{"field":"lv"}}},
   {"mark":{"type":"rule","color":"#3c3c3c","strokeWidth":1.3,"xOffset":-1.5,"y2Offset":4},"encoding":{"x":{"field":"t","type":"ordinal","scale":{"type":"point","domain":["Normal","Normal|CG-E","CG-E","CG-E|CG-IM","CG-IM","CG-IM|ITA","ITA"],"padding":1.07},"axis":null},"y2":{"field":"lv"}}},
   {"transform":[{"filter":"datum.s=='ns'"}],"mark":{"type":"text","fontSize":10.5,"color":"#3c3c3c","baseline":"alphabetic","dy":-2},"encoding":{"x":{"field":"m","type":"ordinal","scale":{"type":"point","domain":["Normal","Normal|CG-E","CG-E","CG-E|CG-IM","CG-IM","CG-IM|ITA","ITA"],"padding":1.07},"axis":null},"text":{"field":"s"}}},
   {"transform":[{"filter":"datum.s!='ns'"}],"mark":{"type":"text","fontSize":12,"color":"#3c3c3c","baseline":"alphabetic","dy":4},"encoding":{"x":{"field":"m","type":"ordinal","scale":{"type":"point","domain":["Normal","Normal|CG-E","CG-E","CG-E|CG-IM","CG-IM","CG-IM|ITA","ITA"],"padding":1.07},"axis":null},"text":{"field":"s"}}}
  ]},
 {"width":174,"height":115,"data":{"name":"bars"},"transform":[{"filter":"datum.p=='D-ITGP'"}],
  "encoding":{"x":{"field":"g","type":"nominal","sort":["Normal","CG-E","CG-IM","ITA"],"scale":{"paddingInner":0.33,"paddingOuter":0.2},"axis":{"title":null}},
   "y":{"field":"mean","type":"quantitative","title":"τₘₑₐₙ","scale":{"domain":[0.95,1.15],"zero":false,"nice":false},"axis":{"values":[0.95,1.00,1.05,1.10,1.15],"format":".2f","titleFontSize":15}}},
  "layer":[
   {"mark":{"type":"bar","clip":true,"stroke":"#6b6b6b","strokeWidth":1},"encoding":{"color":{"field":"g","type":"nominal","scale":{"domain":["Normal","CG-E","CG-IM","ITA"],"range":["#0000ff","#008000","#ff0000","#1797b5"]},"legend":null}}},
   {"mark":{"type":"rule","color":"#333","strokeWidth":1.5},"encoding":{"y2":{"field":"hi"}}},
   {"mark":{"type":"tick","color":"#333","size":12,"thickness":1.5},"encoding":{"y":{"field":"hi","type":"quantitative","title":"τₘₑₐₙ"}}}
  ]}
]}
],
"config":{
 "view":{"stroke":null},
 "font":"Liberation Sans",
 "text":{"font":"Liberation Sans"},
 "title":{"font":"Liberation Sans","fontSize":14.5,"fontWeight":"bold","color":"#000","anchor":"middle","frame":"bounds","offset":-3},
 "axis":{"domainColor":"#333","domainWidth":1.5,"tickColor":"#333","tickWidth":1.5,"tickSize":3,"labelFont":"Liberation Sans","labelFontWeight":"bold","labelFontSize":10.5,"labelColor":"#111","labelPadding":2,"grid":false,"titleFont":"DejaVu Serif","titleFontStyle":"italic","titleFontWeight":"normal","titleColor":"#111","titlePadding":1},
 "axisX":{"ticks":false,"labelFontSize":11.5,"labelPadding":5,"labelAngle":0}
}
}
